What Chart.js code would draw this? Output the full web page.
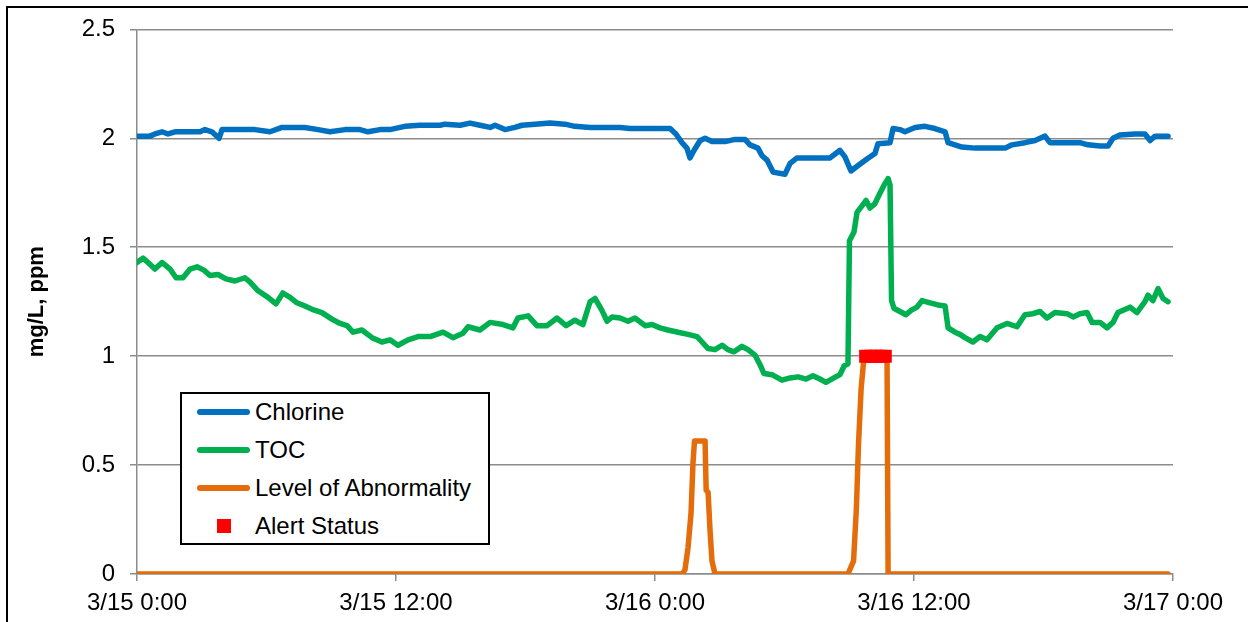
<!DOCTYPE html>
<html>
<head>
<meta charset="utf-8">
<script src="https://cdn.jsdelivr.net/npm/chart.js@4/dist/chart.umd.min.js"></script>
<style>
  html, body { margin: 0; padding: 0; background: #fff; }
  #wrap { position: relative; width: 1248px; height: 622px; overflow: hidden; }
  #legend {
    position: absolute; left: 180px; top: 392px; width: 310px; height: 153px;
    box-sizing: border-box; border: 2px solid #000; background: #fff;
    font-family: "Liberation Sans", Arial, sans-serif; font-size: 24px; color: #000;
  }
  .row { position: absolute; left: 0; height: 38px; width: 100%; }
  .key { position: absolute; }
  .key.line { left: 15px; top: 16px; width: 53px; height: 6px; border-radius: 3px; }
  .key.square { left: 35px; top: 12px; width: 14px; height: 14px; }
  .txt { position: absolute; left: 73px; top: 0; line-height: 38px; white-space: nowrap; }
</style>
</head>
<body>
<div id="wrap">
  <canvas id="chart" width="1248" height="622"></canvas>
  <div id="legend"></div>
</div>
<script>
// axis labels
const xTickLabels = ["3/15 0:00", "3/15 12:00", "3/16 0:00", "3/16 12:00", "3/17 0:00"];
const yTickLabels = ["0", "0.5", "1", "1.5", "2", "2.5"];

// hours since 3/15 0:00
const chlorineHours = [0, 0.6, 0.83, 1.16, 1.44, 1.76, 2.22, 2.92, 3.15, 3.47,
  3.8, 3.94, 4.54, 5.0, 5.47, 6.16, 6.72, 7.32, 7.78, 8.39,
  8.94, 9.64, 10.33, 10.7, 11.26, 11.72, 12.19, 12.42, 13.11, 14.04,
  14.27, 14.97, 15.43, 15.89, 16.36, 16.59, 17.05, 17.51, 17.84, 18.44,
  19.13, 19.83, 20.29, 20.99, 21.68, 22.38, 22.84, 23.54, 24.23, 24.7,
  24.97, 25.25, 25.48, 25.62, 25.81, 26.09, 26.32, 26.64, 27.24, 27.71,
  28.17, 28.4, 28.77, 28.96, 29.19, 29.47, 30.02, 30.26, 30.58, 30.95,
  31.41, 32.11, 32.57, 32.8, 33.08, 33.41, 33.82, 34.19, 34.33, 34.89,
  35.03, 35.35, 35.58, 36.05, 36.51, 36.97, 37.44, 37.58, 37.9, 38.22,
  38.83, 39.52, 40.22, 40.54, 41.14, 41.61, 41.84, 42.07, 42.3, 42.76,
  43.23, 43.69, 44.06, 44.62, 44.99, 45.22, 45.54, 46.24, 46.7, 46.94,
  47.17, 47.77];
const chlorineValues = [2.01, 2.01, 2.02, 2.03, 2.02, 2.03, 2.03, 2.03, 2.04, 2.03,
  2.0, 2.04, 2.04, 2.04, 2.04, 2.03, 2.05, 2.05, 2.05, 2.04,
  2.03, 2.04, 2.04, 2.03, 2.04, 2.04, 2.05, 2.055, 2.06, 2.06,
  2.065, 2.06, 2.07, 2.06, 2.05, 2.06, 2.04, 2.05, 2.06, 2.065,
  2.07, 2.065, 2.055, 2.05, 2.05, 2.05, 2.045, 2.045, 2.045, 2.045,
  2.02, 1.98, 1.955, 1.91, 1.945, 1.99, 2.0, 1.985, 1.985, 1.995,
  1.995, 1.97, 1.955, 1.92, 1.9, 1.845, 1.835, 1.885, 1.91, 1.91,
  1.91, 1.91, 1.945, 1.915, 1.85, 1.875, 1.905, 1.93, 1.975, 1.98,
  2.045, 2.04, 2.03, 2.05, 2.055, 2.045, 2.03, 1.98, 1.97, 1.96,
  1.955, 1.955, 1.955, 1.97, 1.98, 1.99, 2.0, 2.01, 1.98, 1.98,
  1.98, 1.98, 1.97, 1.965, 1.965, 2.0, 2.015, 2.02, 2.02, 1.99,
  2.01, 2.01];

const tocHours = [0, 0.28, 0.51, 0.83, 1.16, 1.53, 1.81, 2.13, 2.46, 2.78,
  3.1, 3.38, 3.75, 4.12, 4.54, 5.0, 5.24, 5.61, 6.07, 6.44,
  6.76, 7.09, 7.41, 7.78, 8.11, 8.57, 9.03, 9.41, 9.73, 10.01,
  10.42, 10.89, 11.35, 11.72, 12.09, 12.56, 13.02, 13.58, 14.18, 14.64,
  15.1, 15.34, 15.89, 16.36, 16.96, 17.42, 17.65, 18.12, 18.53, 19.0,
  19.46, 19.88, 20.29, 20.66, 20.99, 21.22, 21.54, 21.78, 22.01, 22.38,
  22.75, 23.07, 23.54, 23.86, 24.23, 24.6, 25.07, 25.53, 25.95, 26.18,
  26.46, 26.78, 27.11, 27.38, 27.66, 28.03, 28.31, 28.63, 28.87, 29.05,
  29.42, 29.88, 30.26, 30.63, 31.0, 31.32, 31.64, 31.92, 32.29, 32.57,
  32.76, 32.94, 33.01, 33.22, 33.36, 33.59, 33.78, 33.96, 34.19, 34.38,
  34.61, 34.8, 34.89, 34.96, 35.07, 35.35, 35.63, 35.86, 36.14, 36.37,
  36.74, 37.11, 37.44, 37.58, 37.9, 38.13, 38.36, 38.73, 39.06, 39.38,
  39.85, 40.31, 40.77, 41.14, 41.51, 41.84, 42.16, 42.53, 43.09, 43.37,
  43.69, 44.02, 44.25, 44.62, 44.94, 45.22, 45.45, 46.01, 46.33, 46.7,
  46.84, 47.07, 47.31, 47.54, 47.77];
const tocValues = [1.43, 1.45, 1.43, 1.40, 1.43, 1.40, 1.36, 1.36, 1.40, 1.41,
  1.395, 1.37, 1.375, 1.355, 1.345, 1.36, 1.34, 1.30, 1.27, 1.24,
  1.29, 1.27, 1.245, 1.23, 1.215, 1.20, 1.17, 1.15, 1.14, 1.11,
  1.12, 1.085, 1.065, 1.075, 1.05, 1.075, 1.09, 1.09, 1.11, 1.085,
  1.105, 1.135, 1.12, 1.155, 1.145, 1.13, 1.175, 1.185, 1.14, 1.14,
  1.175, 1.14, 1.165, 1.145, 1.25, 1.265, 1.21, 1.16, 1.18, 1.175,
  1.16, 1.175, 1.14, 1.145, 1.13, 1.12, 1.11, 1.10, 1.09, 1.065,
  1.035, 1.03, 1.05, 1.03, 1.02, 1.045, 1.03, 1.005, 0.96, 0.92,
  0.915, 0.89, 0.90, 0.905, 0.895, 0.91, 0.895, 0.88, 0.90, 0.915,
  0.955, 0.965, 1.53, 1.57, 1.66, 1.69, 1.715, 1.68, 1.70, 1.74,
  1.785, 1.815, 1.785, 1.255, 1.22, 1.205, 1.19, 1.21, 1.225, 1.255,
  1.245, 1.235, 1.23, 1.13, 1.11, 1.10, 1.085, 1.065, 1.09, 1.075,
  1.13, 1.15, 1.135, 1.19, 1.195, 1.205, 1.175, 1.20, 1.195, 1.18,
  1.195, 1.20, 1.155, 1.155, 1.13, 1.155, 1.20, 1.225, 1.20, 1.25,
  1.28, 1.255, 1.31, 1.265, 1.25];

const abnormalHours = [0, 25.27, 25.39, 25.53, 25.67, 25.76, 25.83, 26.32, 26.37, 26.46,
  26.55, 26.64, 26.78, 32.94, 33.2, 33.33, 33.43, 33.55, 33.66, 33.78,
  34.75, 34.8, 47.77];
const abnormalValues = [0, 0, 0.02, 0.12, 0.28, 0.51, 0.61, 0.61, 0.385, 0.375,
  0.2, 0.06, 0, 0, 0.06, 0.3, 0.6, 0.85, 0.97, 1.0,
  1.0, 0, 0];

const alertHours = [33.76, 34.0, 34.22, 34.45, 34.67];
const alertValues = [1, 1, 1, 1, 1];

function pts(xs, ys) {
  return xs.map((x, i) => ({ x: x, y: ys[i] }));
}

Chart.defaults.font.family = '"Liberation Sans", Arial, sans-serif';
Chart.defaults.color = '#000';

const gridGray = '#8c8c8c';

// outer frame round the whole picture
const framePlugin = {
  id: 'frame',
  afterDraw(chart) {
    const ctx = chart.ctx;
    ctx.save();
    ctx.strokeStyle = '#000';
    ctx.lineWidth = 2;
    ctx.strokeRect(7, 7, 1400, 800);
    ctx.restore();
  }
};

const chart = new Chart(document.getElementById('chart'), {
  type: 'line',
  data: {
    datasets: [
      {
        label: 'Chlorine',
        data: pts(chlorineHours, chlorineValues),
        borderColor: '#0070C0',
        backgroundColor: '#0070C0',
        borderWidth: 5.5,
        pointRadius: 0,
        borderCapStyle: 'round',
        borderJoinStyle: 'round',
        order: 3
      },
      {
        label: 'TOC',
        data: pts(tocHours, tocValues),
        borderColor: '#00B050',
        backgroundColor: '#00B050',
        borderWidth: 5.5,
        pointRadius: 0,
        borderCapStyle: 'round',
        borderJoinStyle: 'round',
        order: 2
      },
      {
        label: 'Level of Abnormality',
        data: pts(abnormalHours, abnormalValues),
        borderColor: '#E46C0A',
        backgroundColor: '#E46C0A',
        borderWidth: 5.5,
        pointRadius: 0,
        borderCapStyle: 'round',
        borderJoinStyle: 'round',
        order: 1
      },
      {
        label: 'Alert Status',
        data: pts(alertHours, alertValues),
        showLine: false,
        pointStyle: 'rect',
        pointRadius: 9.2,
        pointBorderWidth: 0,
        borderColor: '#FF0000',
        backgroundColor: '#FF0000',
        order: 0
      }
    ]
  },
  options: {
    responsive: false,
    animation: false,
    layout: { padding: { top: 29, right: 75, bottom: 0, left: 0 } },
    plugins: {
      legend: { display: false },
      tooltip: { enabled: false }
    },
    scales: {
      x: {
        type: 'linear',
        min: 0,
        max: 48,
        afterFit: (scale) => { scale.height = 48; },
        ticks: {
          stepSize: 12,
          padding: 8,
          maxRotation: 0,
          font: { size: 24 },
          callback: (v, i) => xTickLabels[i]
        },
        grid: { drawOnChartArea: false, drawTicks: true, tickLength: 7, color: gridGray, lineWidth: 1.5 },
        border: { display: true, color: gridGray, width: 1.5 }
      },
      y: {
        min: 0,
        max: 2.5,
        afterFit: (scale) => { scale.width = 137; },
        ticks: {
          stepSize: 0.5,
          padding: 15,
          font: { size: 24 },
          callback: (v, i) => yTickLabels[i]
        },
        grid: { color: gridGray, lineWidth: 1.5, tickLength: 7 },
        border: { display: true, color: gridGray, width: 1.5 },
        title: {
          display: true,
          text: 'mg/L, ppm',
          font: { size: 22, weight: 'bold' },
          padding: { top: 24, bottom: 0 }
        }
      }
    }
  },
  plugins: [framePlugin]
});

// legend box, built from the datasets
const legendEl = document.getElementById('legend');
chart.data.datasets.forEach((ds, i) => {
  const row = document.createElement('div');
  row.className = 'row';
  row.style.top = (-1 + 38 * i) + 'px';
  const key = document.createElement('span');
  key.className = ds.showLine === false ? 'key square' : 'key line';
  key.style.background = ds.borderColor;
  const txt = document.createElement('span');
  txt.className = 'txt';
  txt.textContent = ds.label;
  row.appendChild(key);
  row.appendChild(txt);
  legendEl.appendChild(row);
});
</script>
</body>
</html>
